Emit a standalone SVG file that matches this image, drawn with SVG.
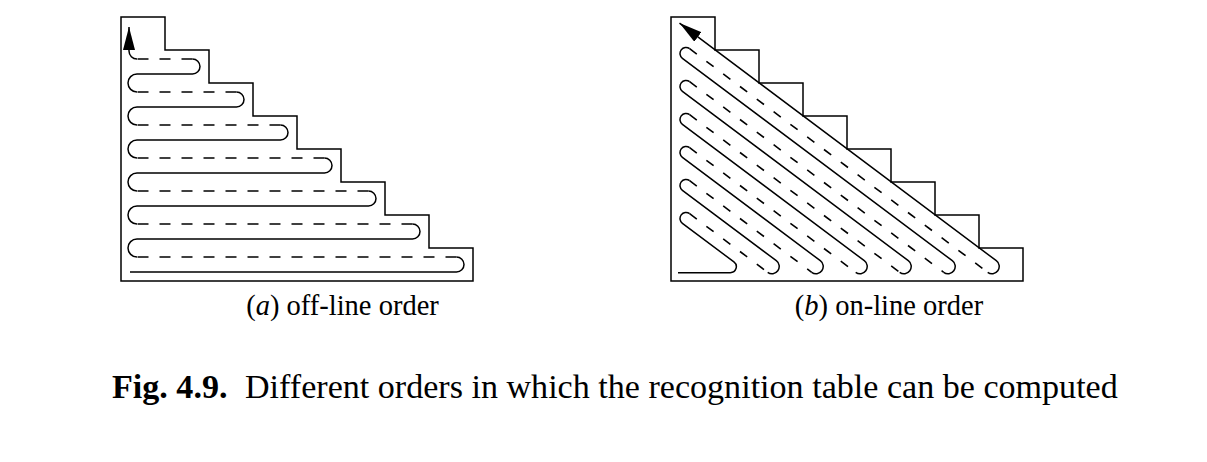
<svg xmlns="http://www.w3.org/2000/svg" width="1207" height="462" viewBox="0 0 1207 462">
  <style>
    .frame { fill: none; stroke: #000; stroke-width: 1.5; stroke-linejoin: miter; }
    .solid { fill: none; stroke: #000; stroke-width: 1.5; }
    .dash-a { fill: none; stroke: #000; stroke-width: 1.6; stroke-dasharray: 11 11; }
    .dash-b { fill: none; stroke: #000; stroke-width: 1.6; stroke-dasharray: 9 12; }
    .label { font-family: "Liberation Serif", "Times New Roman", serif; font-size: 28.5px; fill: #000; }
    .caption { font-family: "Liberation Serif", "Times New Roman", serif; font-size: 34.1px; fill: #000; }
  </style>
  <defs>
    <marker id="arrow" markerUnits="userSpaceOnUse" markerWidth="23" markerHeight="12" viewBox="0 0 23 12" refX="23" refY="6" orient="auto">
      <path d="M0,0 L23,6 L0,12 z" fill="#000"/>
    </marker>
  </defs>
  <rect x="0" y="0" width="1207" height="462" fill="#fff"/>

  <g id="panel-a">
    <polygon class="frame" points="121,17 165,17 165,50 209,50 209,83 253,83 253,116 297,116 297,149 341,149 341,182 385,182 385,215 429,215 429,248 473,248 473,281 121,281"/>
  </g>
  <g id="panel-b">
    <polygon class="frame" points="671,17 715,17 715,50 759,50 759,83 803,83 803,116 847,116 847,149 891,149 891,182 935,182 935,215 979,215 979,248 1023,248 1023,281 671,281"/>
  </g>

  <g id="connectors">
    <g id="order-a">
      <path class="solid" d="M130 272 H456.5 A7.5 7.5 0 0 0 456.5 257
        M137 257 A9 9 0 0 1 137 239 H412.5 A7.5 7.5 0 0 0 412.5 224
        M137 224 A9 9 0 0 1 137 206 H368.5 A7.5 7.5 0 0 0 368.5 191
        M137 191 A9 9 0 0 1 137 173 H324.5 A7.5 7.5 0 0 0 324.5 158
        M137 158 A9 9 0 0 1 137 140 H280.5 A7.5 7.5 0 0 0 280.5 125
        M137 125 A9 9 0 0 1 137 107 H236.5 A7.5 7.5 0 0 0 236.5 92
        M137 92 A9 9 0 0 1 137 74 H192.5 A7.5 7.5 0 0 0 192.5 59"/>
      <path class="dash-a" d="M456.5 257 H137 M412.5 224 H137 M368.5 191 H137 M324.5 158 H137 M280.5 125 H137 M236.5 92 H137 M192.5 59 H137"/>
      <path class="solid" d="M137 59 A8 8 0 0 1 129 51 V27" marker-end="url(#arrow)"/>
    </g>
    <g id="order-b">
      <path class="solid" d="M678 272.7 H730.3 A6 6 0 0 0 733.9 261.9 L682.4 223.3 A6 6 0 0 1 689.6 213.7
        M767.7 272.3 A7.2 7.2 0 0 0 776.3 260.7 L682.4 190.3 A6 6 0 0 1 689.6 180.7
        M811.7 272.3 A7.2 7.2 0 0 0 820.3 260.7 L682.4 157.3 A6 6 0 0 1 689.6 147.7
        M855.7 272.3 A7.2 7.2 0 0 0 864.3 260.7 L682.4 124.3 A6 6 0 0 1 689.6 114.7
        M899.7 272.3 A7.2 7.2 0 0 0 908.3 260.7 L682.4 91.3 A6 6 0 0 1 689.6 81.7
        M943.7 272.3 A7.2 7.2 0 0 0 952.3 260.7 L682.4 58.3 A6 6 0 0 1 689.6 48.7"/>
      <path class="dash-b" d="M689.6 213.7 L767.7 272.3 M689.6 180.7 L811.7 272.3 M689.6 147.7 L855.7 272.3 M689.6 114.7 L899.7 272.3 M689.6 81.7 L943.7 272.3 M689.6 48.7 L987.7 272.3"/>
      <path class="solid" d="M987.7 272.3 A7.2 7.2 0 0 0 996.3 260.7 L679.5 23.1" marker-end="url(#arrow)"/>
    </g>
  </g>

  <g id="labels">
    <text class="label" x="342.5" y="315" text-anchor="middle">(<tspan font-style="italic">a</tspan>) off-line order</text>
    <text class="label" x="889" y="315" text-anchor="middle">(<tspan font-style="italic">b</tspan>) on-line order</text>
    <text class="caption" y="398"><tspan x="112" font-weight="bold">Fig. 4.9.</tspan><tspan x="245">Different orders in which the recognition table can be computed</tspan></text>
  </g>
</svg>
